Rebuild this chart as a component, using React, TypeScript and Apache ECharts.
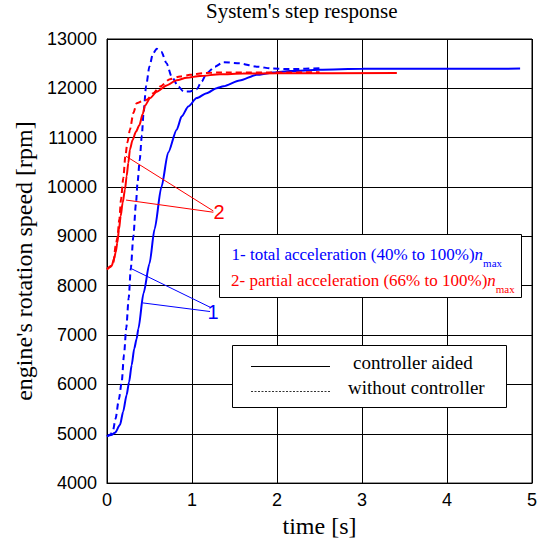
import React, { useEffect, useRef } from "react";
import * as echarts from "echarts";

// time [s], engine speed [rpm]
const totalAided: [number, number][] = [
  [0, 4950], [0.05, 4975], [0.094, 5020], [0.153, 5180], [0.19, 5447], [0.23, 5782],
  [0.26, 6050], [0.29, 6387], [0.32, 6724], [0.349, 6926], [0.369, 7128], [0.43, 7850],
  [0.5, 8450], [0.56, 9150], [0.64, 10000], [0.72, 10700], [0.82, 11163], [0.879, 11432],
  [0.957, 11634], [1.055, 11802], [1.173, 11903], [1.29, 12004], [1.37, 12040], [1.56, 12158],
  [1.76, 12273], [1.96, 12320], [2.15, 12353], [2.5, 12375], [3.0, 12395], [4.86, 12400],
];
const totalNoCtrl: [number, number][] = [
  [0, 4950], [0.04, 4985], [0.07, 5060], [0.1, 5300], [0.14, 5700], [0.173, 6050],
  [0.2, 6600], [0.227, 7150], [0.255, 7750], [0.28, 8350], [0.31, 9000], [0.34, 9650],
  [0.36, 10100], [0.385, 10550], [0.41, 11050], [0.43, 11500], [0.46, 12050], [0.5, 12450],
  [0.54, 12700], [0.585, 12800], [0.64, 12740], [0.7, 12510], [0.76, 12240], [0.84, 12037],
  [0.9, 11936], [0.976, 11936], [1.055, 11984], [1.114, 12138], [1.173, 12307], [1.27, 12440],
  [1.37, 12530], [1.56, 12507], [1.76, 12440], [1.95, 12400], [2.15, 12390], [2.54, 12410],
];
const partialAided: [number, number][] = [
  [0, 8340], [0.055, 8405], [0.082, 8540], [0.102, 8675], [0.122, 8877], [0.141, 9145],
  [0.161, 9414], [0.184, 9684], [0.212, 9952], [0.231, 10221], [0.251, 10491], [0.27, 10760],
  [0.3, 10950], [0.34, 11120], [0.38, 11250], [0.42, 11480], [0.447, 11650], [0.506, 11800],
  [0.585, 11930], [0.702, 12060], [0.82, 12165], [0.937, 12215], [1.094, 12250], [1.33, 12286],
  [1.6, 12300], [2.0, 12305], [3.41, 12310],
];
const partialNoCtrl: [number, number][] = [
  [0, 8330], [0.04, 8380], [0.075, 8474], [0.102, 8808], [0.122, 8978], [0.145, 9347],
  [0.165, 9750], [0.192, 10188], [0.216, 10624], [0.24, 10900], [0.27, 11163], [0.31, 11500],
  [0.349, 11700], [0.408, 11734], [0.467, 11768], [0.545, 11903], [0.624, 12037], [0.741, 12186],
  [0.859, 12240], [0.976, 12273], [1.13, 12307], [1.29, 12320], [2.5, 12325],
];

// leader lines of the "1" and "2" callouts, in data coordinates
const leaders1: [number, number][][] = [
  [[0.279, 8352], [1.212, 7565]],
  [[0.42, 7652], [1.212, 7477]],
];
const leaders2: [number, number][][] = [
  [[0.224, 10624], [1.251, 9515]],
  [[0.224, 9736], [1.251, 9489]],
];

const SERIF = '"Liberation Serif", "Times New Roman", serif';
const SANS = '"Liberation Sans", Arial, sans-serif';
const BLUE = "#0000ff";
const RED = "#ff0000";

function leaderMark(lines: [number, number][][], color: string) {
  return {
    silent: true,
    symbol: ["none", "none"],
    label: { show: false },
    lineStyle: { color, width: 1, type: "solid" },
    data: lines.map((l) => [{ coord: l[0] }, { coord: l[1] }]),
  };
}

function curve(name: string, data: [number, number][], color: string, dashed: boolean, extra: any = {}) {
  return {
    name, type: "line", data,
    showSymbol: false, symbol: "none",
    smooth: 0.25, smoothMonotone: "x",
    lineStyle: { color, width: 2, type: dashed ? [6, 4] : "solid" },
    ...extra,
  };
}

function richLine(label: string, color: string) {
  return {
    text: `{a|${label}}{n|n}{s|max}`,
    align: "left", verticalAlign: "middle", textAlign: "left", textVerticalAlign: "middle",
    rich: {
      a: { fontFamily: SERIF, fontSize: 17, fill: color, color, lineHeight: 28, verticalAlign: "middle" },
      n: { fontFamily: SERIF, fontSize: 17, fontStyle: "italic", fill: color, color, lineHeight: 28, verticalAlign: "middle" },
      s: { fontFamily: SERIF, fontSize: 11, fill: color, color, lineHeight: 12, verticalAlign: "bottom" },
    },
  };
}

export default function App() {
  const ref = useRef<HTMLDivElement>(null);
  useEffect(() => {
    document.body.style.margin = "0";
    const chart = echarts.init(ref.current!, null, { renderer: "svg" });
    const axisCommon = {
      type: "value",
      axisLine: { show: true, onZero: false, lineStyle: { color: "#000", width: 1 } },
      axisTick: { show: true, inside: true, length: 4, lineStyle: { color: "#000" } },
      splitLine: { show: true, lineStyle: { color: "#000", width: 1, opacity: 1 } },
    };
    chart.setOption({
      animation: false,
      backgroundColor: "#fff",
      title: {
        text: "System's step response",
        left: 206,
        top: 0,
        padding: 0,
        textStyle: { fontFamily: SERIF, fontSize: 21, fontWeight: "normal", color: "#000" },
      },
      grid: {
        left: 107, right: 15, top: 39, bottom: 58,
        show: true, borderColor: "#000", borderWidth: 1, backgroundColor: "transparent",
      },
      xAxis: {
        ...axisCommon,
        min: 0, max: 5, interval: 1,
        name: "time [s]", nameLocation: "middle", nameGap: 27,
        nameTextStyle: { fontFamily: SERIF, fontSize: 24, fontWeight: "normal", color: "#000" },
        axisLabel: { fontFamily: SANS, fontSize: 18, color: "#000", margin: 8, formatter: (v: number) => String(v) },
      },
      yAxis: {
        ...axisCommon,
        min: 4000, max: 13000, interval: 1000,
        name: "engine's rotation speed [rpm]", nameLocation: "middle", nameGap: 57,
        nameTextStyle: { fontFamily: SERIF, fontSize: 24, fontWeight: "normal", color: "#000" },
        axisLabel: { fontFamily: SANS, fontSize: 18, color: "#000", margin: 10, formatter: (v: number) => String(v) },
      },
      series: [
        curve("total, controller aided", totalAided, BLUE, false, { markLine: leaderMark(leaders1, BLUE) }),
        curve("total, without controller", totalNoCtrl, BLUE, true),
        curve("partial, controller aided", partialAided, RED, false, { markLine: leaderMark(leaders2, RED) }),
        curve("partial, without controller", partialNoCtrl, RED, true),
      ],
      graphic: [
        {
          type: "text", x: 219, y: 212, z: 20,
          style: { text: "2", fill: RED, fontFamily: SANS, fontSize: 20, align: "center", verticalAlign: "middle", textAlign: "center", textVerticalAlign: "middle" },
        },
        {
          type: "text", x: 213, y: 312, z: 20,
          style: { text: "1", fill: BLUE, fontFamily: SANS, fontSize: 20, align: "center", verticalAlign: "middle", textAlign: "center", textVerticalAlign: "middle" },
        },
        {
          type: "rect", z: 20,
          shape: { x: 219.5, y: 234.5, width: 302, height: 63 },
          style: { fill: "#fff", stroke: "#000", lineWidth: 1 },
        },
        { type: "text", x: 231.5, y: 254, z: 21, style: richLine("1- total acceleration (40% to 100%)", BLUE) },
        { type: "text", x: 231, y: 280, z: 21, style: richLine("2- partial acceleration (66% to 100%)", RED) },
        {
          type: "rect", z: 20,
          shape: { x: 232.5, y: 345.5, width: 274, height: 62 },
          style: { fill: "#fff", stroke: "#000", lineWidth: 1 },
        },
        {
          type: "line", z: 21,
          shape: { x1: 251, y1: 366.5, x2: 330, y2: 366.5 },
          style: { stroke: "#000", lineWidth: 1 },
        },
        {
          type: "line", z: 21,
          shape: { x1: 251, y1: 391.5, x2: 330, y2: 391.5 },
          style: { stroke: "#333", lineWidth: 1, lineDash: [2, 1.5] },
        },
        {
          type: "text", x: 353, y: 362, z: 21,
          style: { text: "controller aided", fill: "#000", fontFamily: SERIF, fontSize: 19, align: "left", verticalAlign: "middle", textAlign: "left", textVerticalAlign: "middle" },
        },
        {
          type: "text", x: 348, y: 387, z: 21,
          style: { text: "without controller", fill: "#000", fontFamily: SERIF, fontSize: 19, align: "left", verticalAlign: "middle", textAlign: "left", textVerticalAlign: "middle" },
        },
      ],
    });
    return () => chart.dispose();
  }, []);
  return (
    <div
      ref={ref}
      style={{ position: "absolute", left: 0, top: 0, width: 547, height: 543, background: "#fff" }}
    />
  );
}
